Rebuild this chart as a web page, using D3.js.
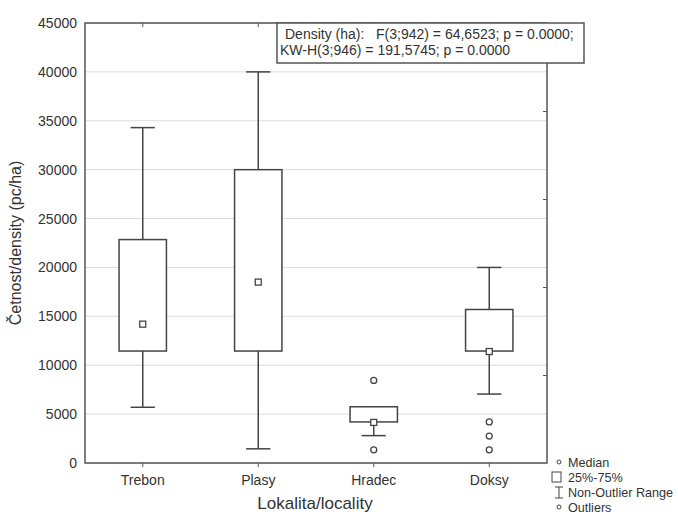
<!DOCTYPE html>
<html>
<head>
<meta charset="utf-8">
<script src="https://cdn.jsdelivr.net/npm/d3@7"></script>
<style>
  body { margin: 0; background: #fff; }
  text { font-family: "Liberation Sans", Arial, sans-serif; fill: #333; }
</style>
</head>
<body>
<div id="chart"></div>
<script>
var categories = ["Trebon", "Plasy", "Hradec", "Doksy"];
var medians = [14200, 18500, 4150, 11400];
var q1 = [11450, 11450, 4200, 11450];
var q3 = [22850, 30000, 5750, 15700];
var whiskerLow = [5700, 1450, 2800, 7050];
var whiskerHigh = [34300, 40000, 5750, 20000];
var outliers = [[], [], [8450, 1350], [4200, 2750, 1350]];
var yTicks = [0, 5000, 10000, 15000, 20000, 25000, 30000, 35000, 40000, 45000];
var rightTicks = [9000, 18000, 27000, 36000];
var statLines = ["Density (ha):   F(3;942) = 64,6523; p = 0.0000;", "KW-H(3;946) = 191,5745; p = 0.0000"];
var legendItems = ["Median", "25%-75%", "Non-Outlier Range", "Outliers"];

var width = 678, height = 514;
var pLeft = 85, pRight = 547, pTop = 23, pBottom = 463;
var stroke = "#444";

var svg = d3.select("#chart").append("svg")
    .attr("width", width)
    .attr("height", height);

var x = d3.scaleBand().domain(categories).range([pLeft, pRight]).padding(0);
var y = d3.scaleLinear().domain([0, 45000]).range([pBottom, pTop]);

// gridlines
svg.append("g").selectAll("line").data(yTicks).enter().append("line")
    .attr("x1", pLeft).attr("x2", pRight)
    .attr("y1", function (d) { return y(d); })
    .attr("y2", function (d) { return y(d); })
    .attr("stroke", "#dcdcdc").attr("stroke-width", 1);

// boxes
var bw = x.bandwidth() * 0.41;
var cw = x.bandwidth() * 0.21;
var cx = function (d) { return x(d) + x.bandwidth() / 2; };
var g = svg.append("g").selectAll("g").data(categories).enter().append("g");

g.append("line") // whisker line
    .attr("x1", cx).attr("x2", cx)
    .attr("y1", function (d, i) { return y(whiskerLow[i]); })
    .attr("y2", function (d, i) { return y(whiskerHigh[i]); })
    .attr("stroke", stroke).attr("stroke-width", 1.5);

g.append("line") // low cap
    .attr("x1", function (d) { return cx(d) - cw / 2; })
    .attr("x2", function (d) { return cx(d) + cw / 2; })
    .attr("y1", function (d, i) { return y(whiskerLow[i]); })
    .attr("y2", function (d, i) { return y(whiskerLow[i]); })
    .attr("stroke", stroke).attr("stroke-width", 1.5);

g.append("line") // high cap
    .attr("x1", function (d) { return cx(d) - cw / 2; })
    .attr("x2", function (d) { return cx(d) + cw / 2; })
    .attr("y1", function (d, i) { return y(whiskerHigh[i]); })
    .attr("y2", function (d, i) { return y(whiskerHigh[i]); })
    .attr("stroke", stroke).attr("stroke-width", 1.5);

g.append("rect")
    .attr("x", function (d) { return cx(d) - bw / 2; })
    .attr("width", bw)
    .attr("y", function (d, i) { return y(q3[i]); })
    .attr("height", function (d, i) { return y(q1[i]) - y(q3[i]); })
    .attr("fill", "#fff").attr("stroke", stroke).attr("stroke-width", 1.5);

g.append("rect") // median marker
    .attr("x", function (d) { return cx(d) - 3; })
    .attr("y", function (d, i) { return y(medians[i]) - 3; })
    .attr("width", 6).attr("height", 6)
    .attr("fill", "#fff").attr("stroke", stroke).attr("stroke-width", 1.3);

g.selectAll("circle").data(function (d, i) {
        return outliers[i].map(function (v) { return { c: d, v: v }; });
    })
    .enter().append("circle")
    .attr("cx", function (o) { return cx(o.c); })
    .attr("cy", function (o) { return y(o.v); })
    .attr("r", 3)
    .attr("fill", "#fff").attr("stroke", stroke).attr("stroke-width", 1.3);

// frame
svg.append("rect")
    .attr("x", pLeft).attr("y", pTop)
    .attr("width", pRight - pLeft).attr("height", pBottom - pTop)
    .attr("fill", "none").attr("stroke", "#555").attr("stroke-width", 1.5);

// axes
var yAxis = svg.append("g")
    .attr("transform", "translate(" + pLeft + ",0)")
    .call(d3.axisLeft(y).tickValues(yTicks).tickSize(0).tickPadding(8).tickFormat(d3.format("d")));
yAxis.select(".domain").remove();
yAxis.selectAll("text").style("font-size", "14px").attr("fill", "#333");

var xAxis = svg.append("g")
    .attr("transform", "translate(0," + pBottom + ")")
    .call(d3.axisBottom(x).tickSize(4).tickPadding(8));
xAxis.select(".domain").remove();
xAxis.selectAll("line").attr("stroke", "#555");
xAxis.selectAll("text").style("font-size", "14px").attr("fill", "#333");

var topAxis = svg.append("g")
    .attr("transform", "translate(0," + pTop + ")")
    .call(d3.axisBottom(x).tickSize(4).tickFormat(""));
topAxis.select(".domain").remove();
topAxis.selectAll("line").attr("stroke", "#555");

var rightAxis = svg.append("g")
    .attr("transform", "translate(" + pRight + ",0)")
    .call(d3.axisLeft(y).tickValues(rightTicks).tickSize(4).tickFormat(""));
rightAxis.select(".domain").remove();
rightAxis.selectAll("line").attr("stroke", "#555");

// axis titles
svg.append("text")
    .attr("transform", "translate(21," + ((pTop + pBottom) / 2) + ") rotate(-90)")
    .attr("text-anchor", "middle")
    .style("font-size", "16px")
    .text("Četnost/density (pc/ha)");

svg.append("text")
    .attr("x", 315).attr("y", 509)
    .attr("text-anchor", "middle")
    .style("font-size", "17px")
    .text("Lokalita/locality");

// stats box
svg.append("rect")
    .attr("x", 277).attr("y", 23)
    .attr("width", 307).attr("height", 40)
    .attr("fill", "#fff").attr("stroke", "#555").attr("stroke-width", 1.5);
svg.selectAll(".stat").data(statLines).enter().append("text")
    .attr("class", "stat")
    .attr("x", function (d, i) { return i === 0 ? 285 : 280; })
    .attr("y", function (d, i) { return 39 + i * 15.5; })
    .style("font-size", "14px")
    .style("white-space", "pre")
    .text(function (d) { return d; });

// legend
var lg = svg.append("g");
var ly = [462, 477, 492, 507];
lg.selectAll("text").data(legendItems).enter().append("text")
    .attr("x", 568)
    .attr("y", function (d, i) { return ly[i] + 4.5; })
    .style("font-size", "12.6px")
    .text(function (d) { return d; });
lg.append("circle").attr("cx", 559).attr("cy", ly[0]).attr("r", 2)
    .attr("fill", "#fff").attr("stroke", stroke).attr("stroke-width", 1);
lg.append("rect").attr("x", 552).attr("y", ly[1] - 5).attr("width", 9).attr("height", 10)
    .attr("fill", "#fff").attr("stroke", stroke).attr("stroke-width", 1);
lg.append("path")
    .attr("d", "M555," + (ly[2] - 5) + "H563M559," + (ly[2] - 5) + "V" + (ly[2] + 6) + "M555," + (ly[2] + 6) + "H563")
    .attr("fill", "none").attr("stroke", stroke).attr("stroke-width", 1);
lg.append("circle").attr("cx", 559).attr("cy", ly[3]).attr("r", 2)
    .attr("fill", "#fff").attr("stroke", stroke).attr("stroke-width", 1);
</script>
</body>
</html>
